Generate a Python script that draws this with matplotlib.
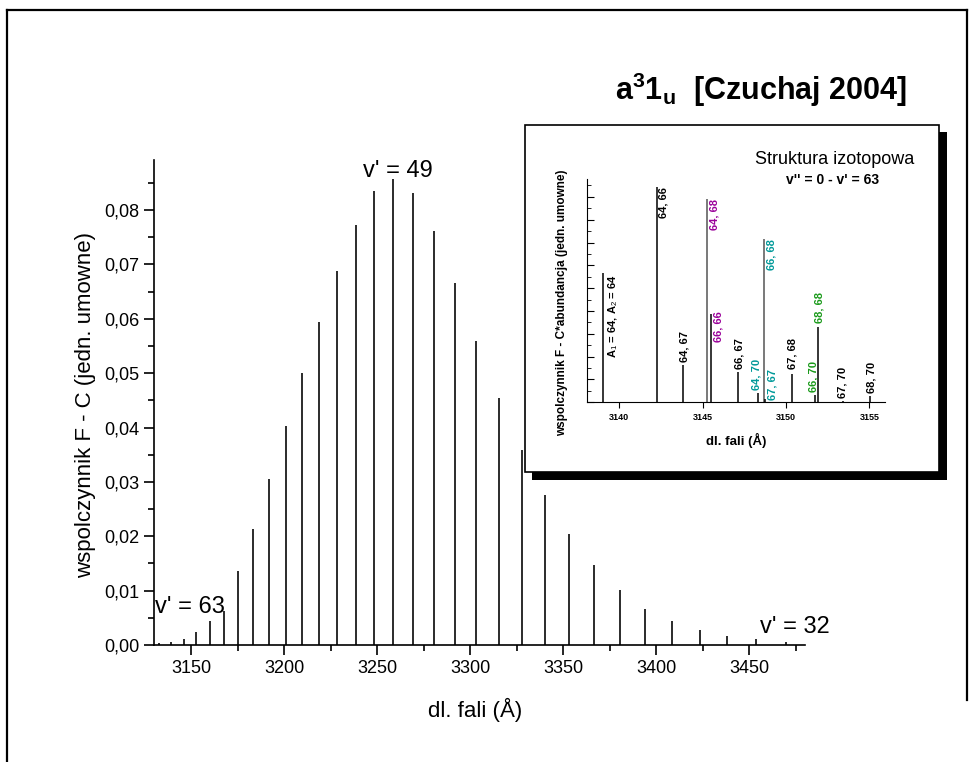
import matplotlib
matplotlib.use("Agg")
import matplotlib.pyplot as plt
from matplotlib.patches import Rectangle
from matplotlib.lines import Line2D
import matplotlib.ticker as mtick

plt.rcParams['font.family'] = ['Liberation Sans', 'DejaVu Sans']
plt.rcParams['mathtext.fontset'] = 'custom'
plt.rcParams['mathtext.rm'] = 'Liberation Sans'
plt.rcParams['mathtext.it'] = 'Liberation Sans'
plt.rcParams['mathtext.bf'] = 'Liberation Sans:bold'

# widmo glowne: v' = 63 ... v' = 32
dl_fali = [3132.8, 3139.2, 3145.9, 3152.7, 3160.2, 3167.4, 3175.4, 3183.3,
           3191.9, 3200.7, 3209.7, 3218.8, 3228.5, 3238.5, 3248.4, 3258.6,
           3269.2, 3280.3, 3291.7, 3303.3, 3315.3, 3327.7, 3340.2, 3353.3,
           3366.6, 3380.3, 3394.2, 3408.6, 3423.5, 3438.3, 3453.9, 3469.9]
fc = [0.0003, 0.00055, 0.00105, 0.0023, 0.0044, 0.0062, 0.0136, 0.0213,
      0.0305, 0.0403, 0.0500, 0.0594, 0.0687, 0.0772, 0.0835, 0.0857,
      0.0831, 0.0762, 0.0666, 0.0560, 0.0455, 0.0359, 0.0276, 0.0205,
      0.0147, 0.0102, 0.0067, 0.0044, 0.0028, 0.00165, 0.00104, 0.00055]

# struktura izotopowa v'' = 0 - v' = 63
iso_dl = [3139.04, 3142.24, 3143.8, 3145.28, 3145.52, 3147.1, 3148.3,
          3148.68, 3148.76, 3150.34, 3151.76, 3151.92, 3153.44, 3155.04]
iso_wart = [5.65, 9.42, 1.635, 8.89, 3.87, 1.31, 0.39,
            7.15, 0.15, 1.24, 0.32, 3.28, 0.06, 0.28]
iso_opis = ['A$_1$ = 64, A$_2$ = 64', '64, 66', '64, 67', '64, 68', '66, 66',
            '66, 67', '64, 70', '66, 68', '67, 67', '67, 68', '66, 70',
            '68, 68', '67, 70', '68, 70']

fiolet = '#990099'
morski = '#009999'
zielony = '#1a9a1a'
kolory_opis = ['black', 'black', 'black', fiolet, fiolet, 'black', morski,
               morski, morski, 'black', zielony, zielony, 'black', 'black']
kolory_linii = ['black', 'black', 'black', '#555555', 'black', 'black',
                'black', '#555555', 'black', 'black', 'black', 'black',
                'black', 'black']
# polozenie opisow (x, y, wyrownanie pionowe)
opis_x = [3139.64, 3142.64, 3143.88, 3145.7, 3145.94, 3147.2, 3148.24,
          3149.14, 3149.18, 3150.4, 3151.66, 3152.0, 3153.4, 3155.14]
opis_y = [1.93, 9.42, 1.78, 8.89, 3.97, 1.445, 0.54,
          7.15, 0.10, 1.445, 0.47, 3.46, 0.175, 0.42]
opis_va = ['bottom', 'top', 'bottom', 'top', 'top', 'bottom', 'bottom',
           'top', 'bottom', 'bottom', 'bottom', 'bottom', 'bottom', 'bottom']

W, H = 978, 762
fig = plt.figure(figsize=(W / 100, H / 100), dpi=100)


def fx(px):
    return px / W


def fy(py):
    return 1 - py / H


# ramka wokol rysunku
for x0, y0, x1, y1 in [(7, 10, 967, 10), (7, 10, 7, 762), (967, 10, 967, 700)]:
    fig.add_artist(Line2D([fx(x0), fx(x1)], [fy(y0), fy(y1)], color='black',
                          lw=1.6, transform=fig.transFigure))

ax = fig.add_axes([fx(154), fy(645), fx(805) - fx(154), fy(160) - fy(645)])
ax.vlines(dl_fali, 0, fc, color='#1a1a1a', lw=1.3)
ax.set_xlim(3130, 3480)
ax.set_ylim(0, 0.0892)
for s in ['top', 'right']:
    ax.spines[s].set_visible(False)
for s in ['left', 'bottom']:
    ax.spines[s].set_linewidth(1.2)
ax.xaxis.set_major_locator(mtick.MultipleLocator(50))
ax.xaxis.set_minor_locator(mtick.MultipleLocator(25))
ax.yaxis.set_major_locator(mtick.MultipleLocator(0.01))
ax.yaxis.set_minor_locator(mtick.MultipleLocator(0.005))
ax.yaxis.set_major_formatter(mtick.FuncFormatter(lambda v, p: f'{v:.2f}'.replace('.', ',')))
ax.tick_params(which='major', direction='out', length=7, width=1.2, labelsize=13)
ax.tick_params(which='minor', direction='out', length=4, width=1.2)

ax.text(3261.3, 0.0861, "v' = 49", fontsize=17, ha='center', va='baseline')
ax.text(3130.6, 0.00583, "v' = 63", fontsize=17, ha='left', va='baseline')
ax.text(3455.9, 0.00226, "v' = 32", fontsize=17, ha='left', va='baseline')

fig.text(fx(86), fy(405), 'wspolczynnik F - C (jedn. umowne)', rotation=90,
         fontsize=16, ha='center', va='center')
fig.text(fx(475), fy(710), 'dl. fali (Å)', fontsize=16, ha='center', va='center')

fig.text(fx(615), fy(100), r'$\mathbf{a^{3}1_{u}}$  [Czuchaj 2004]',
         fontsize=22, fontweight='bold', ha='left', va='baseline')

# wstawka z cieniem
fig.add_artist(Rectangle((fx(532), fy(480)), fx(947) - fx(532), fy(132) - fy(480),
                         facecolor='black', edgecolor='none',
                         transform=fig.transFigure, zorder=1))
fig.add_artist(Rectangle((fx(525), fy(472)), fx(939) - fx(525), fy(125) - fy(472),
                         facecolor='white', edgecolor='black', lw=1.2,
                         transform=fig.transFigure, zorder=1.5))

ins = fig.add_axes([fx(586.7), fy(402.3), fx(885) - fx(586.7), fy(179.3) - fy(402.3)])
ins.set_zorder(2)
ins.patch.set_alpha(0)
ins.vlines(iso_dl, 0, iso_wart, colors=kolory_linii, lw=1.1)
ins.set_xlim(3138.04, 3155.94)
ins.set_ylim(0, 9.77)
for s in ['top', 'right']:
    ins.spines[s].set_visible(False)
ins.xaxis.set_major_locator(mtick.MultipleLocator(5))
ins.xaxis.set_minor_locator(mtick.MultipleLocator(1))
ins.yaxis.set_major_locator(mtick.MultipleLocator(1))
ins.yaxis.set_minor_locator(mtick.MultipleLocator(0.5))
ins.tick_params(axis='x', which='major', direction='out', length=4, labelsize=6.5)
ins.tick_params(axis='x', which='minor', length=0)
ins.tick_params(axis='y', which='major', direction='in', length=5, labelleft=False)
ins.tick_params(axis='y', which='minor', direction='in', length=3)
for t in ins.get_xticklabels():
    t.set_fontweight('bold')
for x, y, txt, k, va in zip(opis_x, opis_y, iso_opis, kolory_opis, opis_va):
    ins.text(x, y, txt, rotation=90, ha='center', va=va, color=k,
             fontsize=8, fontweight='bold')

ins.set_xlabel('dl. fali (Å)', fontsize=9.5, fontweight='bold', labelpad=8)
fig.text(fx(561.7), fy(303), 'wspolczynnik F - C*abundancja (jedn. umowne)',
         rotation=90, fontsize=8.5, fontweight='bold', ha='center', va='center',
         zorder=3)
fig.text(fx(835), fy(160), 'Struktura izotopowa', fontsize=13,
         ha='center', va='center', zorder=3)
fig.text(fx(833), fy(180), "v'' = 0 - v' = 63", fontsize=10, fontweight='bold',
         ha='center', va='center', zorder=3)

fig.savefig('out.png', dpi=100)
